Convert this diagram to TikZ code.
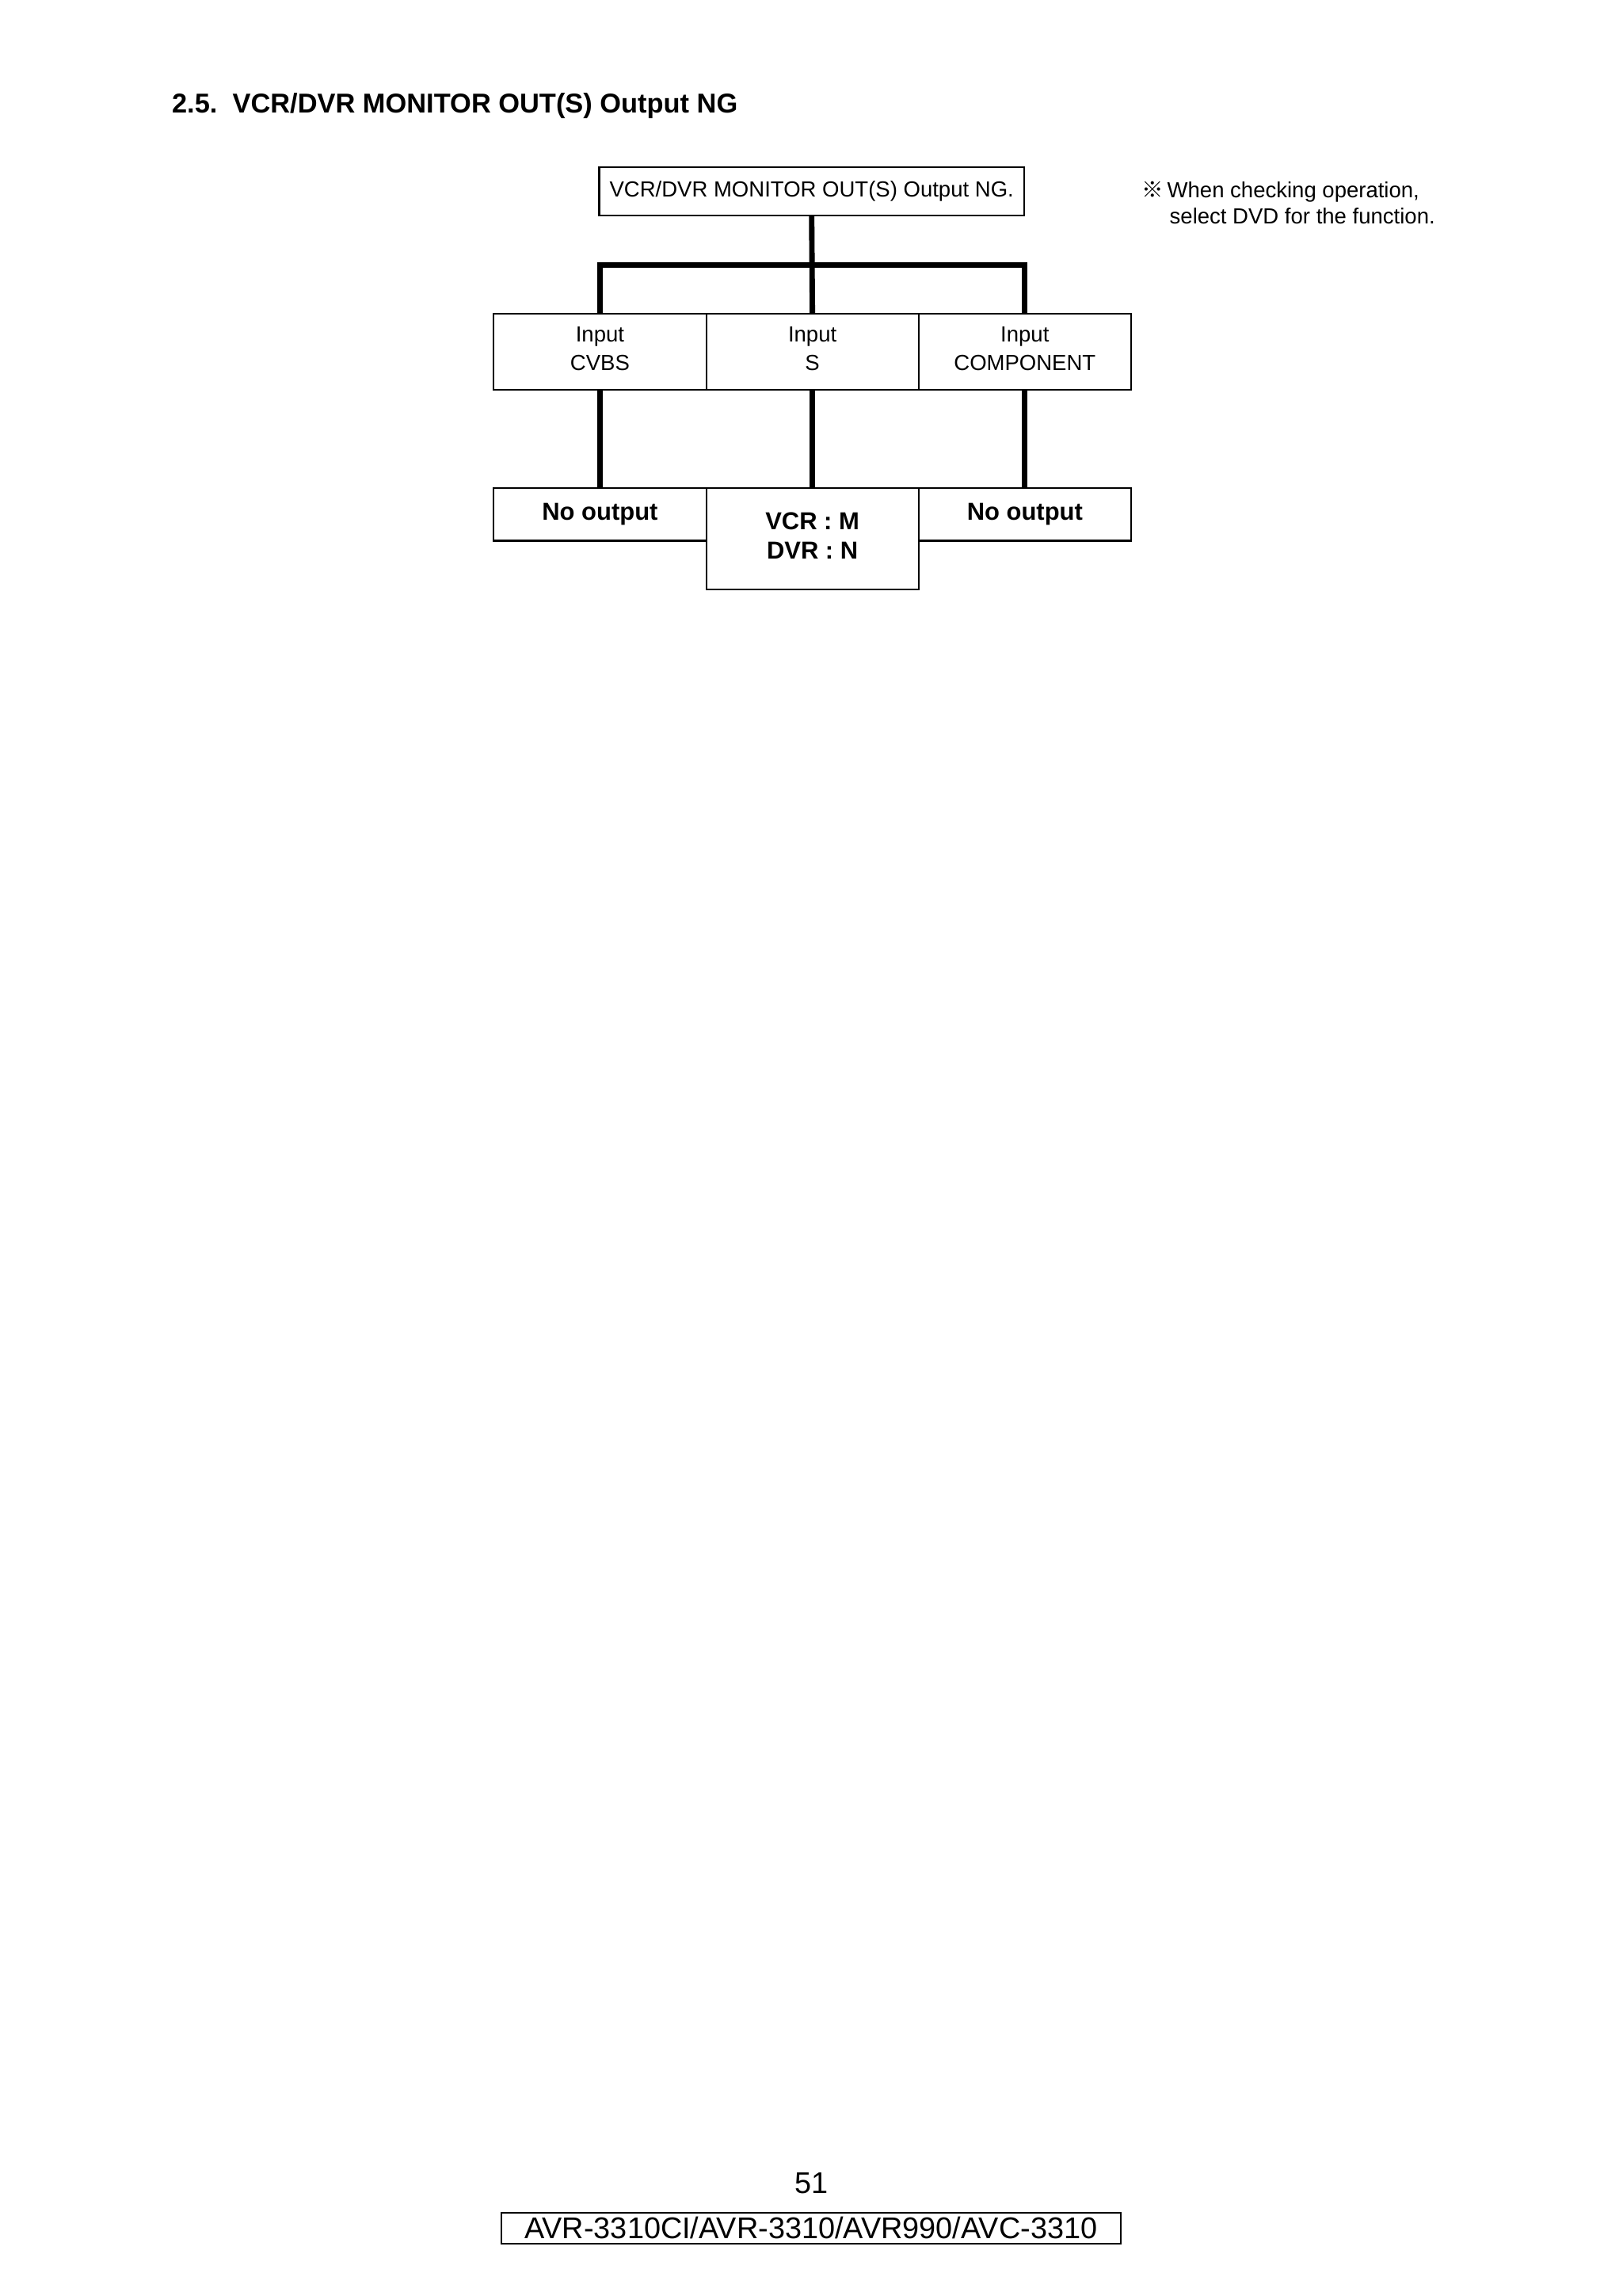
\documentclass[tikz,border=0pt]{standalone}
\usepackage{fontspec}
\setmainfont{Liberation Sans}
\newfontfamily\cjk{Noto Sans CJK JP}
\begin{document}
\begin{tikzpicture}[x=0.5376pt,y=-0.5376pt,
  thickline/.style={line width=2pt},
  txt/.style={inner sep=0pt,anchor=base west}]
\useasboundingbox (0,0) rectangle (1107.3,1566.8);
% title
\node[txt,font=\bfseries\fontsize{10}{12}\selectfont] (title) at (117,77) {2.5.\ \ VCR/DVR MONITOR OUT(S) Output NG};
% top box
\node[draw,line width=0.6pt,inner sep=0pt,minimum width=290*0.5376pt,minimum height=33*0.5376pt,font=\fontsize{8}{10}\selectfont] (top) at (554,130.5) {\raisebox{1pt}{VCR/DVR MONITOR OUT(S) Output NG.}};
% note
\node[txt,font=\fontsize{8}{10}\selectfont] (note1) at (779,135) {{\cjk ※}\,When checking operation,};
\node[txt,font=\fontsize{8}{10}\selectfont] (note2) at (798,153) {select DVD for the function.};
% input row
\tikzset{inbox/.style={draw,line width=0.6pt,inner sep=0pt,minimum width=145*0.5376pt,minimum height=52*0.5376pt,align=center,text depth=2.2pt,font=\fontsize{8}{10.3}\selectfont}}
\node[inbox] (cvbs) at (409.5,240) {Input\\CVBS};
\node[inbox] (sv) at (554.5,240) {Input\\S};
\node[inbox] (comp) at (699.5,240) {Input\\COMPONENT};
% output row
\tikzset{outbox/.style={draw,line width=0.6pt,inner sep=0pt,minimum width=145*0.5376pt,align=center,font=\bfseries\fontsize{9}{10.8}\selectfont}}
\node[outbox,minimum height=36*0.5376pt] (out1) at (409.5,351) {\raisebox{0.5pt}{No output}};
\node[outbox,minimum height=69*0.5376pt,text depth=2.2pt] (out2) at (554.5,367.5) {VCR : M\\DVR : N};
\node[outbox,minimum height=36*0.5376pt] (out3) at (699.5,351) {\raisebox{0.5pt}{No output}};
% connectors
\coordinate (barl) at (409.5,181);
\coordinate (barr) at (699.5,181);
\draw[thickline] (top.south) -- (sv.north);
\draw[thickline] (cvbs.north) -- (barl) -- (barr) -- (comp.north);
\draw[thickline] (cvbs.south) -- (out1.north);
\draw[thickline] (sv.south) -- (out2.north);
\draw[thickline] (comp.south) -- (out3.north);
% footer
\node[inner sep=0pt,anchor=base,font=\fontsize{11}{13}\selectfont] (page) at (554,1497) {51};
\node[draw,line width=0.6pt,inner sep=0pt,minimum width=423*0.5376pt,minimum height=21*0.5376pt,font=\fontsize{11}{13}\selectfont] (footer) at (553.5,1520.5) {AVR-3310CI/AVR-3310/AVR990/AVC-3310};
\end{tikzpicture}
\end{document}
